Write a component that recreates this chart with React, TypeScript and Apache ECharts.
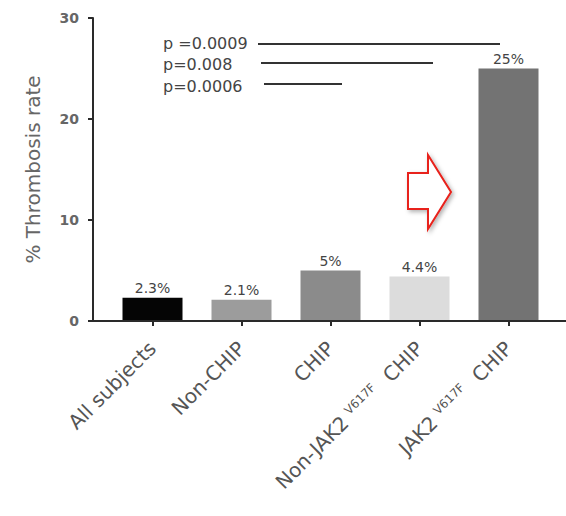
import React, { useEffect, useRef } from "react";
import * as echarts from "echarts";

const categories = ["All subjects", "Non-CHIP", "CHIP", "Non-JAK2{sup|V617F} CHIP", "JAK2{sup|V617F} CHIP"];
const values = [2.3, 2.1, 5, 4.4, 25];
const valueLabels = ["2.3%", "2.1%", "5%", "4.4%", "25%"];
const barColors = ["#050505", "#9c9c9c", "#8b8b8b", "#dcdcdc", "#737373"];
const pTexts = ["p =0.0009", "p=0.008", "p=0.0006"];

export default function App() {
  const ref = useRef<HTMLDivElement>(null);
  useEffect(() => {
    document.body.style.margin = "0";
    const chart = echarts.init(ref.current!, null, { renderer: "svg" });
    const font = "DejaVu Sans";
    const pY = [43, 64, 86];
    const pLineX = [[258, 500], [261, 433], [264, 342]];
    const pLineY = [44, 63, 84];
    const graphics: any[] = [
      {
        type: "line",
        shape: { x1: 88, y1: 321, x2: 566, y2: 321 },
        style: { stroke: "#2a2a2a", lineWidth: 2 },
        z: 10,
      },
      {
        type: "polygon",
        shape: {
          points: [
            [408, 173],
            [428, 173],
            [428, 155],
            [451, 192],
            [428, 229],
            [428, 209],
            [408, 209],
          ],
        },
        style: {
          fill: "#ffffff",
          stroke: "#e8201a",
          lineWidth: 2,
          shadowBlur: 4,
          shadowOffsetX: 2,
          shadowOffsetY: 2,
          shadowColor: "rgba(0,0,0,0.3)",
        },
      },
    ];
    pTexts.forEach((t, i) => {
      graphics.push({
        type: "text",
        x: 163,
        y: pY[i],
        style: {
          text: t,
          font: `16px "${font}"`,
          fill: "#444",
          textVerticalAlign: "middle",
          verticalAlign: "middle",
        },
      });
      graphics.push({
        type: "line",
        shape: { x1: pLineX[i][0], y1: pLineY[i], x2: pLineX[i][1], y2: pLineY[i] },
        style: { stroke: "#333", lineWidth: 2 },
      });
    });

    chart.setOption({
      animation: false,
      grid: { left: 108, right: 13, top: 18, bottom: 195 },
      xAxis: {
        type: "category",
        data: categories,
        axisLine: { show: false },
        axisTick: {
          show: true,
          alignWithLabel: true,
          length: 5,
          lineStyle: { color: "#2a2a2a", width: 2 },
        },
        axisLabel: {
          rotate: 45,
          margin: 24,
          fontSize: 20,
          fontFamily: font,
          color: "#555",
          interval: 0,
          rich: {
            sup: { fontSize: 12, fontFamily: font, color: "#555", verticalAlign: "top", padding: [0, 8, 0, 6] },
          },
        },
      },
      yAxis: {
        type: "value",
        min: 0,
        max: 30,
        interval: 10,
        offset: 15,
        splitLine: { show: false },
        axisLine: { show: true, lineStyle: { color: "#2a2a2a", width: 2 } },
        axisTick: { show: true, length: 5, lineStyle: { color: "#2a2a2a", width: 2 } },
        axisLabel: { fontSize: 14, fontWeight: "bold", color: "#666", fontFamily: font, margin: 14 },
        name: "% Thrombosis rate",
        nameLocation: "middle",
        nameRotate: 90,
        nameGap: 50,
        nameTextStyle: { fontSize: 20, color: "#666", fontFamily: font },
      },
      series: [
        {
          type: "bar",
          barWidth: 60,
          data: values.map((v, i) => ({ value: v, itemStyle: { color: barColors[i] } })),
          label: {
            show: true,
            position: "top",
            distance: 3,
            fontSize: 14,
            color: "#444",
            fontFamily: font,
            formatter: (p: any) => valueLabels[p.dataIndex],
          },
        },
      ],
      graphic: graphics,
    });
    return () => chart.dispose();
  }, []);
  return <div ref={ref} style={{ width: 566, height: 516 }} />;
}
